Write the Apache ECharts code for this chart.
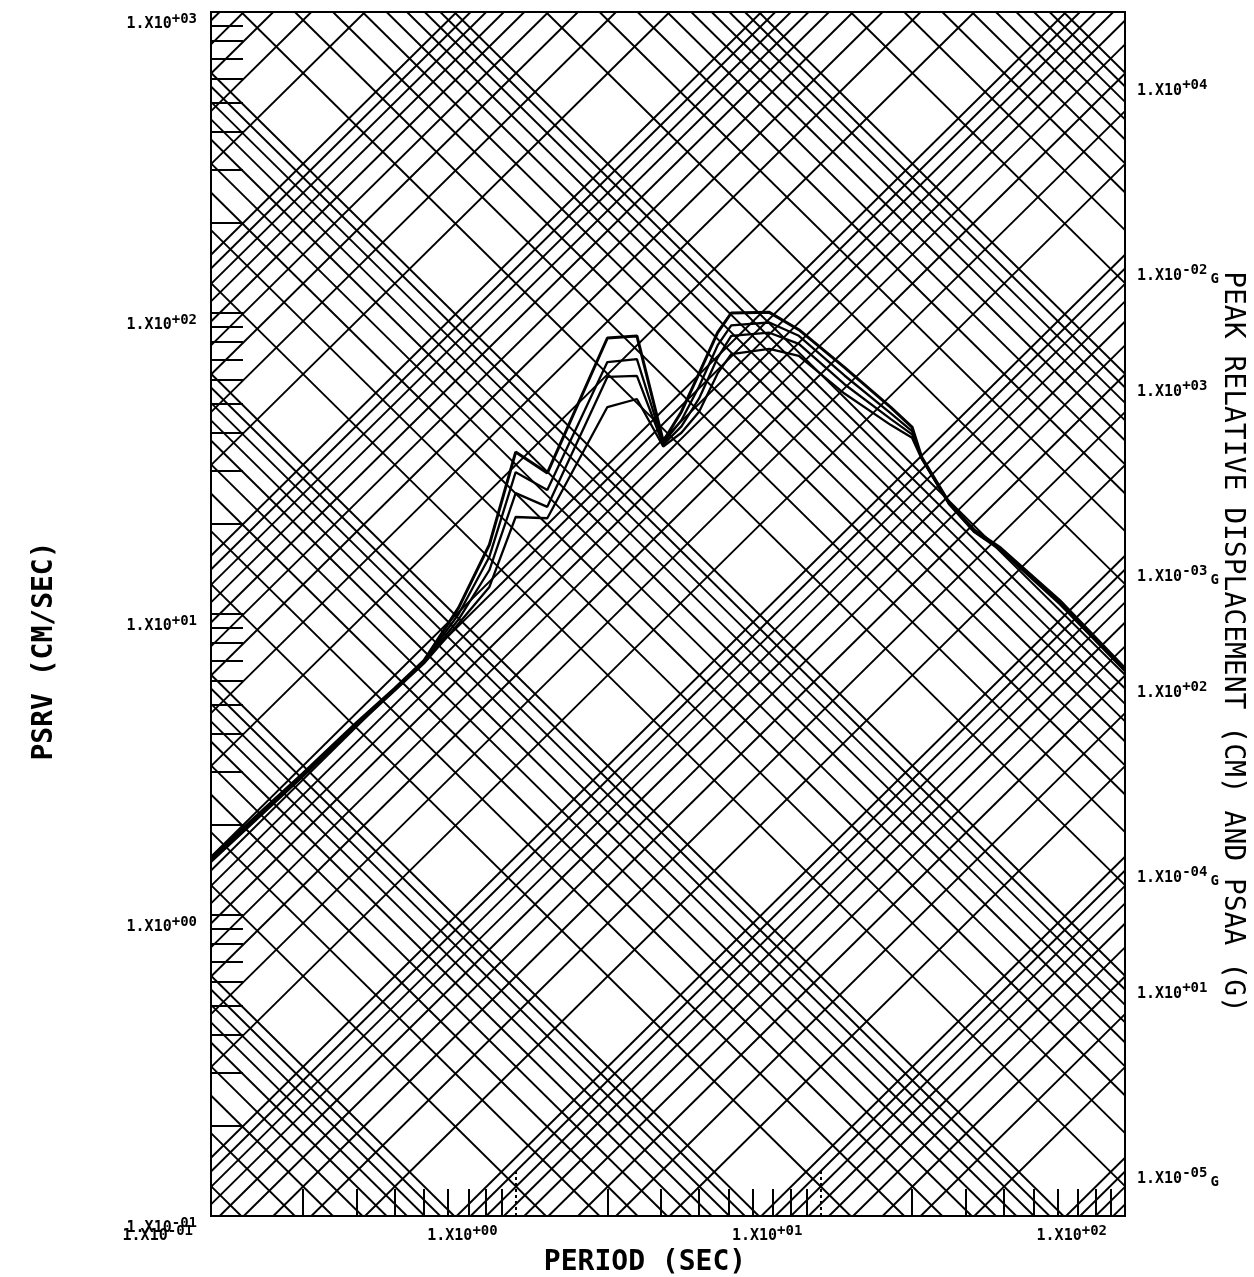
<!DOCTYPE html>
<html lang="en">
<head>
<meta charset="UTF-8" />
<title>PSRV tripartite response spectrum</title>
<script src="https://cdn.jsdelivr.net/npm/echarts@6/dist/echarts.min.js"></script>
<style>
  body { margin: 0; background: #fff; }
  #container { width: 1254px; height: 1277px; }
</style>
</head>
<body>
<div id="container"></div>
<script>
// ---- data ----
// period (sec) of each spectrum vertex
const periods = [0.1, 0.2, 0.3, 0.4, 0.5, 0.65, 0.82, 1.0, 1.27, 2.0, 2.5, 3.05, 3.5, 4.0, 4.6, 5.1, 6.8, 8.5, 12, 17, 20, 21.5, 26.5, 32, 39, 61, 100];
// PSRV (cm/sec), one array per damping curve, top to bottom
const psrvA = [1.55, 2.95, 4.35, 5.65, 7.0, 10.5, 17.0, 34.5, 29.4, 82.6, 83.9, 37.5, 47, 63, 86, 100, 100.5, 88, 66, 48.7, 41.8, 33.2, 23.4, 19.0, 16.6, 11.1, 6.6];
const psrvB = [1.53, 2.92, 4.3, 5.6, 6.95, 10.0, 15.5, 29.6, 25.8, 68.7, 70.3, 37.0, 44, 57, 78, 91, 93, 84, 62, 46.5, 40.5, 33.1, 23.3, 18.9, 16.5, 11.0, 6.55];
const psrvC = [1.52, 2.9, 4.28, 5.58, 6.9, 9.6, 14.0, 25.2, 22.7, 61.3, 61.8, 36.5, 42, 52, 71, 84, 86, 79, 58, 44.5, 39.5, 33.0, 23.2, 18.8, 16.4, 10.9, 6.5];
const psrvD = [1.5, 2.88, 4.25, 5.55, 6.85, 9.3, 12.3, 21.0, 20.8, 48.7, 51.8, 36.0, 40, 47, 63, 73, 76, 72, 54, 42.5, 38.5, 32.8, 23.1, 18.7, 16.3, 10.8, 6.45];

// diagonal grid levels
const mantissas = [1, 2, 3, 4, 5, 6, 7, 8, 9];
const dispDecades = [1e-3, 1e-2, 1e-1, 1, 10, 100, 1000, 10000];   // cm
const accDecades = [1e-6, 1e-5, 1e-4, 1e-3, 1e-2, 1e-1, 1, 10];     // g

// axis tick values
const xMinorTicks = [0.2, 0.3, 0.4, 0.5, 0.6, 0.7, 0.8, 0.9, 2, 3, 4, 5, 6, 7, 8, 9, 20, 30, 40, 50, 60, 70, 80, 90];
const xDecadeTicks = [1, 10];
const yTicks = [0.2, 0.3, 0.4, 0.5, 0.6, 0.7, 0.8, 0.9, 1, 2, 3, 4, 5, 6, 7, 8, 9, 10, 20, 30, 40, 50, 60, 70, 80, 90, 100, 200, 300, 400, 500, 600, 700, 800, 900];

// ---- axis ranges ----
const tMin = 0.1, tMax = 100, vMin = 0.1, vMax = 1000;
const G = 981;
const TWO_PI = 2 * Math.PI;
const FONT = 'DejaVu Sans Mono';

function dispLine(d) {
  const t1 = Math.max(tMin, TWO_PI * d / vMax);
  const t2 = Math.min(tMax, TWO_PI * d / vMin);
  if (t1 >= t2) return null;
  return { coords: [[t1, TWO_PI * d / t1], [t2, TWO_PI * d / t2]] };
}
function accLine(a) {
  const k = a * G / TWO_PI;
  const t1 = Math.max(tMin, vMin / k);
  const t2 = Math.min(tMax, vMax / k);
  if (t1 >= t2) return null;
  return { coords: [[t1, k * t1], [t2, k * t2]] };
}

const gridLines = [];
dispDecades.forEach(dec => mantissas.forEach(m => {
  const l = dispLine(m * dec); if (l) gridLines.push(l);
}));
accDecades.forEach(dec => mantissas.forEach(m => {
  const l = accLine(m * dec); if (l) gridLines.push(l);
}));

const yTickLen = Math.pow(10, 32 / 304.7);
const xTickLen = Math.pow(10, 27 / 301);
const xDecLen = Math.pow(10, 45 / 301);
const tickLines = xMinorTicks.map(t => ({ coords: [[t, vMin], [t, vMin * xTickLen]] }))
  .concat(yTicks.map(v => ({ coords: [[tMin, v], [tMin * yTickLen, v]] })));
const decadeTickLines = xDecadeTicks.map(t => ({ coords: [[t, vMin], [t, vMin * xDecLen]] }));

function sciLabel(v, suffix) {
  const lg = Math.log10(v);
  const e = Math.round(lg);
  if (Math.abs(lg - e) > 1e-4) return '';
  const s = (e < 0 ? '-' : '+') + String(Math.abs(e)).padStart(2, '0');
  return '{m|1.X10}{s|' + s + '}' + (suffix ? '{g|' + suffix + '}' : '');
}
const rich = {
  m: { fontFamily: FONT, fontSize: 15, fontWeight: 'bold', color: '#000', lineHeight: 15, padding: [5, 0, 0, 0], verticalAlign: 'top' },
  s: { fontFamily: FONT, fontSize: 14, fontWeight: 'bold', color: '#000', lineHeight: 14, verticalAlign: 'top' },
  g: { fontFamily: FONT, fontSize: 14, fontWeight: 'bold', color: '#000', lineHeight: 14, padding: [9, 0, 0, 3], verticalAlign: 'top' }
};

function curve(vals, w) {
  return {
    type: 'line', data: periods.map((t, i) => [t, vals[i]]),
    showSymbol: false, symbol: 'none', lineStyle: { color: '#000', width: w }, z: 5, silent: true
  };
}

const chart = echarts.init(document.getElementById('container'), null, { renderer: 'canvas' });

const option = {
  animation: false,
  backgroundColor: '#fff',
  grid: {
    left: 211, right: 129, top: 12, bottom: 61,
    show: true, borderColor: '#000', borderWidth: 2, backgroundColor: 'transparent',
    outerBoundsMode: 'none'
  },
  xAxis: {
    type: 'log', logBase: 10, min: tMin, max: tMax,
    axisLine: { show: false }, axisTick: { show: false }, splitLine: { show: false },
    axisLabel: {
      formatter: v => sciLabel(v), rich: rich, align: 'right', padding: [0, 18, 0, 0], margin: 8,
      showMinLabel: true, showMaxLabel: true
    },
    name: 'PERIOD (SEC)', nameLocation: 'middle', nameGap: 30,
    nameTextStyle: { fontFamily: FONT, fontSize: 28, fontWeight: 'bold', color: '#000', padding: [0, 46, 0, 0] }
  },
  yAxis: [
    {
      type: 'log', logBase: 10, min: vMin, max: vMax, position: 'left',
      axisLine: { show: false }, axisTick: { show: false }, splitLine: { show: false },
      axisLabel: { formatter: v => sciLabel(v), rich: rich, margin: 14, verticalAlign: 'top', showMinLabel: true, showMaxLabel: true },
      name: 'PSRV (CM/SEC)', nameLocation: 'middle', nameRotate: 90, nameGap: 152,
      nameTextStyle: { fontFamily: FONT, fontSize: 28, fontWeight: 'bold', color: '#000', padding: [0, 74, 0, 0] }
    },
    {
      // displacement (cm) where the constant-D lines meet the right edge
      type: 'log', logBase: 10, min: vMin * tMax / TWO_PI, max: vMax * tMax / TWO_PI, position: 'right',
      axisLine: { show: false }, axisTick: { show: false }, splitLine: { show: false },
      axisLabel: { formatter: v => sciLabel(v), rich: rich, margin: 12, verticalAlign: 'top', padding: [6, 0, 0, 0], showMinLabel: false, showMaxLabel: false },
      name: 'PEAK RELATIVE DISPLACEMENT (CM) AND PSAA (G)', nameLocation: 'middle', nameRotate: -90, nameGap: 83,
      nameTextStyle: { fontFamily: FONT, fontSize: 28, color: '#000', padding: [0, 0, 0, 56] }
    },
    {
      // acceleration (g) where the constant-A lines meet the right edge
      type: 'log', logBase: 10, min: TWO_PI * vMin / (G * tMax), max: TWO_PI * vMax / (G * tMax), position: 'right',
      axisLine: { show: false }, axisTick: { show: false }, splitLine: { show: false },
      axisLabel: { formatter: v => sciLabel(v, 'G'), rich: rich, margin: 12, verticalAlign: 'top', padding: [9, 0, 0, 0], showMinLabel: false, showMaxLabel: false }
    }
  ],
  series: [
    {
      type: 'lines', coordinateSystem: 'cartesian2d', data: gridLines, silent: true,
      lineStyle: { color: '#000', width: 1.9, opacity: 1, curveness: 0 }, z: 2
    },
    {
      type: 'lines', coordinateSystem: 'cartesian2d', data: tickLines, silent: true,
      lineStyle: { color: '#000', width: 2, opacity: 1, curveness: 0 }, z: 3
    },
    {
      type: 'lines', coordinateSystem: 'cartesian2d', data: decadeTickLines, silent: true,
      lineStyle: { color: '#000', width: 2, opacity: 1, curveness: 0, type: [3, 3] }, z: 3
    },
    curve(psrvA, 3),
    curve(psrvB, 2.3),
    curve(psrvC, 2.3),
    curve(psrvD, 2.3)
  ]
};

chart.setOption(option);
window.addEventListener('resize', chart.resize);
</script>
</body>
</html>
